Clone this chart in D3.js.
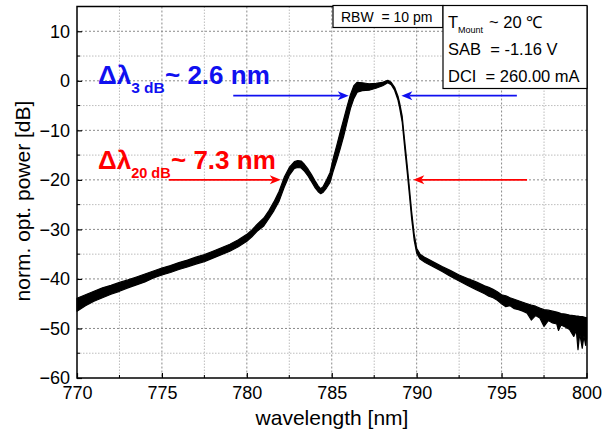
<!DOCTYPE html>
<html><head><meta charset="utf-8">
<script src="https://cdn.jsdelivr.net/npm/d3@7/dist/d3.min.js"></script>
<style>
body{margin:0;background:#fff}
svg{display:block}
text{font-family:"Liberation Sans",Arial,Helvetica,sans-serif}
</style>
</head><body>
<svg id="chart" width="604" height="436"></svg>
<script>
// ---- data ----
const wavelength = [770.0,770.5,771.0,771.5,772.0,772.5,773.0,773.5,774.0,774.5,775.0,775.5,776.0,776.5,777.0,777.5,778.0,778.5,779.0,779.5,
  780.0,780.3,780.6,781.0,781.3,781.6,781.9,782.2,782.5,782.8,783.0,783.2,783.4,783.6,783.8,784.0,784.2,784.35,784.5,784.7,784.9,
  785.1,785.3,785.5,785.7,785.9,786.1,786.3,786.5,786.8,787.2,787.6,788.0,788.3,788.5,788.7,788.9,789.0,789.15,789.3,789.45,789.55,789.7,789.85,
  790.0,790.2,790.5,791.0,791.5,792.0,792.5,793.0,793.5,794.0,794.25,794.5,794.75,795.0,795.25,795.5,795.75,796.0,796.25,796.5,796.75,
  797.0,797.25,797.5,797.75,798.0,798.25,798.35,798.5,798.75,799.0,799.25,799.4,799.5,799.6,799.75,799.85,799.95,800.0];
const upperDb = [-43.9,-43.2,-42.5,-41.8,-41.3,-40.7,-40.2,-39.6,-39.0,-38.4,-37.8,-37.3,-36.7,-36.2,-35.6,-35.1,-34.4,-33.7,-33.0,-32.1,
  -31.0,-30.1,-29.0,-27.7,-26.2,-24.4,-22.3,-19.5,-17.5,-16.3,-16.1,-16.2,-16.9,-17.8,-18.9,-20.1,-21.2,-21.8,-21.3,-20.0,-18.5,
  -15.5,-13.0,-10.3,-7.8,-5.2,-2.8,-1.0,-0.3,-0.4,-0.6,-0.5,-0.3,0.1,-0.3,-1.3,-3.1,-4.5,-7.2,-12.3,-17.3,-20.8,-26.3,-30.9,
  -33.8,-35.0,-35.7,-36.6,-37.5,-38.3,-39.2,-39.9,-40.6,-41.4,-41.7,-42.1,-42.6,-43.2,-43.4,-43.8,-44.1,-44.4,-44.7,-45.0,-45.3,
  -45.5,-45.9,-46.2,-46.3,-46.5,-46.7,-46.8,-47.0,-47.1,-47.3,-47.4,-47.5,-47.5,-47.6,-47.6,-47.7,-47.8,-47.8];
const lowerDb = [-46.5,-45.4,-44.5,-43.8,-43.1,-42.5,-41.8,-41.2,-40.6,-39.8,-39.2,-38.7,-38.1,-37.6,-37.0,-36.5,-35.8,-35.1,-34.4,-33.5,
  -32.4,-31.5,-30.4,-29.3,-27.8,-26.2,-24.3,-21.5,-19.1,-17.7,-17.5,-17.6,-18.3,-19.2,-20.3,-21.5,-22.4,-22.8,-22.5,-21.6,-20.5,
  -18.1,-16.0,-13.7,-11.2,-8.4,-5.6,-3.6,-2.3,-2.0,-1.9,-1.5,-1.0,-0.4,-0.8,-1.9,-3.9,-5.5,-8.4,-13.7,-18.7,-22.2,-27.7,-32.1,
  -34.8,-36.0,-36.7,-37.6,-38.5,-39.5,-40.4,-41.3,-42.2,-43.0,-43.5,-43.8,-44.3,-45.0,-45.6,-45.4,-46.0,-46.2,-46.5,-46.9,-48.3,
  -47.4,-47.9,-49.6,-48.4,-48.9,-49.1,-50.4,-49.3,-49.7,-50.2,-51.6,-50.4,-54.3,-51.0,-54.0,-51.5,-53.4,-52.0];

const xTickValues = [770,775,780,785,790,795,800];
const xMinorValues = [772.5,777.5,782.5,787.5,792.5,797.5];
const yTickValues = [10,0,-10,-20,-30,-40,-50,-60];
const yMinorValues = [5,-5,-15,-25,-35,-45,-55];
const xDomain = [770,800];
const yDomain = [-60,15];

// annotations
const bw3dB = {label:"Δλ", sub:"3 dB", val:"~ 2.6 nm", level:-3, leftFrom:779.2, leftTo:786.0, rightFrom:795.9, rightTo:789.1};
const bw20dB = {label:"Δλ", sub:"20 dB", val:"~ 7.3 nm", level:-20, leftFrom:775.4, leftTo:782.0, rightFrom:796.5, rightTo:789.8};
const rbwText = "RBW  = 10 pm";
const condTexts = ["SAB  = -1.16 V", "DCI  = 260.00 mA"];

// ---- layout ----
const svg = d3.select("#chart");
const M = {left:77, right:587, top:6.5, bottom:378};
const x = d3.scaleLinear().domain(xDomain).range([M.left, M.right-0.5]);
const y = d3.scaleLinear().domain(yDomain).range([M.bottom, M.top]);

svg.append("rect").attr("width",604).attr("height",436).attr("fill","#fff");

// grid
const grid = svg.append("g");
grid.selectAll(".gxm").data(xTickValues.slice(1,-1)).join("line")
  .attr("x1",d=>x(d)).attr("x2",d=>x(d)).attr("y1",M.top).attr("y2",M.bottom)
  .attr("stroke","#8a8a8a").attr("stroke-dasharray","2,2").attr("stroke-width",1);
grid.selectAll(".gxn").data(xMinorValues).join("line")
  .attr("x1",d=>x(d)).attr("x2",d=>x(d)).attr("y1",M.top).attr("y2",M.bottom)
  .attr("stroke","#bdbdbd").attr("stroke-dasharray","1.5,1.5").attr("stroke-width",1);
grid.selectAll(".gym").data(yTickValues.slice(0,-1)).join("line")
  .attr("y1",d=>y(d)).attr("y2",d=>y(d)).attr("x1",M.left).attr("x2",M.right)
  .attr("stroke","#8a8a8a").attr("stroke-dasharray","2,2").attr("stroke-width",1);
grid.selectAll(".gyn").data(yMinorValues).join("line")
  .attr("y1",d=>y(d)).attr("y2",d=>y(d)).attr("x1",M.left).attr("x2",M.right)
  .attr("stroke","#bdbdbd").attr("stroke-dasharray","1.5,1.5").attr("stroke-width",1);

// spectrum band
const pts = wavelength.map((w,i)=>({w, hi:upperDb[i], lo:lowerDb[i]}));
const area = d3.area().x(d=>x(d.w)).y0(d=>y(d.lo)).y1(d=>y(d.hi));
svg.append("path").datum(pts).attr("d",area)
  .attr("fill","#000").attr("stroke","#000").attr("stroke-width",1.2).attr("stroke-linejoin","round");

// axes
const fontTick = "18px";
const xAxis = d3.axisBottom(x).tickValues(xTickValues).tickSize(-5).tickPadding(8).tickFormat(d3.format("d"));
const gx = svg.append("g").attr("transform",`translate(0,${M.bottom})`).call(xAxis);
const yAxis = d3.axisLeft(y).tickValues(yTickValues).tickSize(-5).tickPadding(7).tickFormat(d3.format("d"));
const gy = svg.append("g").attr("transform",`translate(${M.left},0)`).call(yAxis);
[gx,gy].forEach(g=>{
  g.select(".domain").remove();
  g.selectAll("text").attr("font-size",fontTick).attr("fill","#000").style("font-family",'"Liberation Sans",Arial,sans-serif');
  g.selectAll("line").attr("stroke","#000").attr("stroke-width",1.2);
});
gx.selectAll("text").attr("dy","0.72em");
// minor ticks
svg.selectAll(".mx").data(xMinorValues).join("line")
  .attr("x1",d=>x(d)).attr("x2",d=>x(d)).attr("y1",M.bottom).attr("y2",M.bottom-3).attr("stroke","#000");
svg.selectAll(".my").data(yMinorValues).join("line")
  .attr("y1",d=>y(d)).attr("y2",d=>y(d)).attr("x1",M.left).attr("x2",M.left+3).attr("stroke","#000");

// frame
svg.append("rect").attr("x",M.left).attr("y",M.top).attr("width",M.right-M.left).attr("height",M.bottom-M.top)
  .attr("fill","none").attr("stroke","#000").attr("stroke-width",1.5);

// axis titles
svg.append("text").attr("x",332).attr("y",425).attr("text-anchor","middle").attr("font-size","21px").text("wavelength [nm]");
svg.append("text").attr("transform","translate(30,201) rotate(-90)").attr("text-anchor","middle").attr("font-size","21px").text("norm. opt. power [dB]");

// info boxes
svg.append("rect").attr("x",333).attr("y",M.top-1).attr("width",110).attr("height",22)
  .attr("fill","#fff").attr("stroke","#000").attr("stroke-width",1.2);
svg.append("text").attr("x",341).attr("y",22).attr("font-size","14px").attr("xml:space","preserve").text(rbwText);
svg.append("rect").attr("x",443).attr("y",M.top-1).attr("width",M.right-443).attr("height",83)
  .attr("fill","#fff").attr("stroke","#000").attr("stroke-width",1.2);
const tm = svg.append("text").attr("x",448).attr("y",28).attr("font-size","16.5px");
tm.append("tspan").text("T");
tm.append("tspan").attr("font-size","9px").attr("dy",5).text("Mount");
tm.append("tspan").attr("x",489).attr("dy",-5).text("~ 20 ℃");
svg.selectAll(".cond").data(condTexts).join("text")
  .attr("x",448).attr("y",(d,i)=>55+i*27).attr("font-size","16.5px").attr("xml:space","preserve").text(d=>d);

// bandwidth annotations
function annot(a, color, baseY, subSize, valX){
  const t = svg.append("text").attr("x",98).attr("y",baseY).attr("fill",color).attr("font-weight","bold").attr("font-size","26px");
  t.append("tspan").text(a.label);
  t.append("tspan").attr("font-size",subSize).attr("dy",9).text(a.sub);
  t.append("tspan").attr("x",valX).attr("dy",-9).text(a.val);
  const yy = y(a.level);
  [[a.leftFrom,a.leftTo],[a.rightFrom,a.rightTo]].forEach(([f,to])=>{
    const x0 = x(f), x1 = x(to), dir = Math.sign(x1-x0);
    svg.append("line").attr("x1",x0).attr("x2",x1-dir*8).attr("y1",yy).attr("y2",yy)
      .attr("stroke",color).attr("stroke-width",1.6);
    svg.append("path").attr("d",`M${x1},${yy} L${x1-dir*11},${yy-4.5} L${x1-dir*8},${yy} L${x1-dir*11},${yy+4.5} Z`)
      .attr("fill",color);
  });
}
annot(bw3dB, "#1010f0", 84, "15.5px", 165);
annot(bw20dB, "#ff0000", 169, "14.5px", 171);
</script>
</body></html>
